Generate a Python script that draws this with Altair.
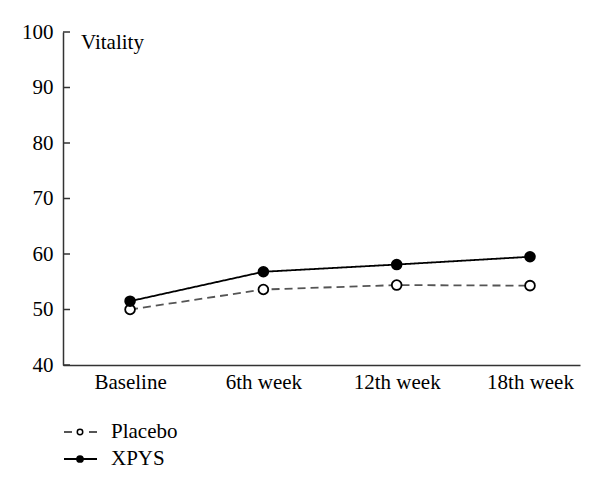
import altair as alt
import pandas as pd

weeks = ["Baseline", "6th week", "12th week", "18th week"]
placebo = [50.0, 53.6, 54.4, 54.3]
xpys = [51.5, 56.8, 58.1, 59.5]
series_names = ["Placebo", "XPYS"]
y_ticks = [40, 50, 60, 70, 80, 90, 100]

rows = []
for i, w in enumerate(weeks):
    rows.append({"idx": i, "week": w, "series": "Placebo", "value": placebo[i]})
    rows.append({"idx": i, "week": w, "series": "XPYS", "value": xpys[i]})
df = pd.DataFrame(rows)

FONT = "Liberation Serif, DejaVu Serif, serif"
FS = 21
label_expr = "[" + ",".join("'%s'" % w for w in weeks) + "][datum.value]"

x_enc = alt.X("idx:Q",
              scale=alt.Scale(domain=[-0.503, 3.375], nice=False, zero=False),
              axis=alt.Axis(values=[0, 1, 2, 3], labelExpr=label_expr, ticks=False,
                            grid=False, title=None, labelFont=FONT, labelFontSize=FS,
                            labelColor="#000", labelPadding=6, domainColor="#333",
                            domainWidth=1.5))
y_enc = alt.Y("value:Q",
              scale=alt.Scale(domain=[40, 100], nice=False, zero=False),
              axis=alt.Axis(values=y_ticks, ticks=False, grid=False, title=None,
                            labelFont=FONT, labelFontSize=FS, labelColor="#000",
                            labelPadding=10, domainColor="#333", domainWidth=1.5))

dash_scale = alt.Scale(domain=series_names, range=[[8, 5], [1, 0]])
fill_scale = alt.Scale(domain=series_names, range=["white", "black"])
stroke_scale = alt.Scale(domain=series_names, range=["#555555", "#000000"])

lines = alt.Chart(df).mark_line(strokeWidth=1.8).encode(
    x=x_enc, y=y_enc,
    strokeDash=alt.StrokeDash("series:N", scale=dash_scale, legend=None),
    stroke=alt.Stroke("series:N", scale=stroke_scale, legend=None),
)

points = alt.Chart(df).mark_point(filled=False, shape="circle", size=95,
                                   strokeWidth=1.8, stroke="black", opacity=1).encode(
    x="idx:Q", y="value:Q",
    fill=alt.Fill("series:N", scale=fill_scale, legend=None),
)

tick_df = pd.DataFrame({"t": y_ticks})
ticks = alt.Chart(tick_df).mark_rule(color="#333", strokeWidth=1.5).encode(
    x=alt.value(0), x2=alt.value(7), y="t:Q"
)


def text_layer(label, px, py):
    return alt.Chart(pd.DataFrame({"label": [label]})).mark_text(
        font=FONT, fontSize=FS, align="left", baseline="middle", color="#000"
    ).encode(x=alt.value(px), y=alt.value(py), text="label:N")


title = text_layer("Vitality", 18, 11)

# manual legend (decoration)
leg_placebo_line = alt.Chart(pd.DataFrame({"s": [series_names[0]]})).mark_rule(
    color="#555555", strokeWidth=1.8, strokeDash=[8, 17]).encode(
    x=alt.value(1), x2=alt.value(34), y=alt.value(400))
leg_placebo_pt = alt.Chart(pd.DataFrame({"s": [series_names[0]]})).mark_point(
    shape="circle", size=30, filled=False, fill="white", stroke="black",
    strokeWidth=1.5, opacity=1).encode(x=alt.value(17), y=alt.value(400))
leg_xpys_line = alt.Chart(pd.DataFrame({"s": [series_names[1]]})).mark_rule(
    color="black", strokeWidth=1.8).encode(
    x=alt.value(1), x2=alt.value(34), y=alt.value(427))
leg_xpys_pt = alt.Chart(pd.DataFrame({"s": [series_names[1]]})).mark_point(
    shape="circle", size=60, filled=True, color="black", opacity=1).encode(
    x=alt.value(17), y=alt.value(427))
leg_text1 = text_layer(series_names[0], 48, 400)
leg_text2 = text_layer(series_names[1], 48, 427)

chart = alt.layer(lines, points, ticks, title, leg_placebo_line, leg_placebo_pt,
                  leg_xpys_line, leg_xpys_pt, leg_text1, leg_text2).properties(
    width=517, height=333,
    autosize=alt.AutoSizeParams(type="none"),
    padding={"left": 55, "top": 24, "right": 12, "bottom": 118},
).configure_text(font=FONT).configure_view(stroke=None)

chart.save("out.html", embed_options={"renderer": "svg", "actions": False})
